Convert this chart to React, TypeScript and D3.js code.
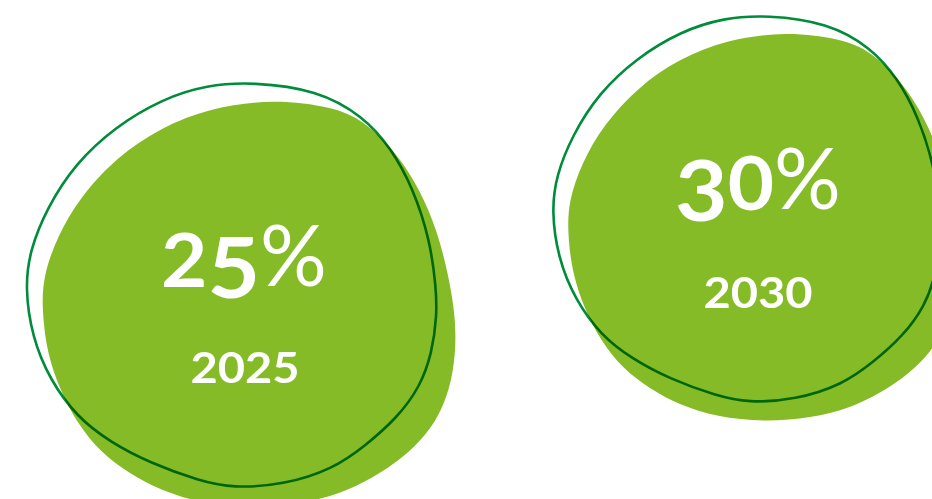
import React from "react";
import * as d3 from "d3";

// ---- data ----
const years = ["2025", "2030"];
const shares = [25, 30];

// blob silhouette (filled) and hand-drawn ring, traced in the frame of the first badge
const fillShape: [number, number][] = [
  [273, 99], [333, 107], [363, 120], [397, 153], [420, 190], [437, 230], [448, 273],
  [455, 313], [456, 347], [452, 380], [442, 410], [427, 434], [403, 458], [373, 478],
  [340, 494], [300, 504], [250, 508], [200, 503], [160, 490], [130, 474], [100, 452],
  [77, 423], [60, 390], [47, 353], [42, 310], [43, 277], [57, 237], [80, 197],
  [117, 157], [160, 128], [210, 108],
];
const ringShape: [number, number][] = [
  [253, 82], [317, 90], [363, 116], [391, 148], [413, 188], [430, 240], [436, 287],
  [437, 315], [432, 353], [420, 387], [397, 418], [365, 446], [333, 469], [283, 485],
  [233, 488], [200, 481], [150, 463], [110, 442], [77, 417], [50, 380], [32, 337],
  [25, 287], [30, 250], [47, 208], [75, 164], [115, 127], [162, 99], [207, 85],
];

// per-badge placement of the shared silhouette
const badgeScaleX = [1, 0.945];
const badgeScaleY = [1, 0.955];
const badgeShiftX = [0, 527.9];
const badgeShiftY = [0, -63.3];

// label layout
const splitX = [260, 774];
const bigBaseline = [287, 210];
const smallCx = [245, 758];
const smallBaseline = [383, 308];

const W = 932;
const H = 499;
const FILL = "#84BB27";
const RING = "#008C3A";
const FONT = "Lato, 'Open Sans', sans-serif";

function BigLabel({ value, x, base }: { value: number; x: number; base: number }) {
  const chars = String(value).split("");
  let prev = 0;
  return (
    <g>
      <g transform={`translate(${x},0) scale(1.08,1)`}>
        <text x={0} y={base} textAnchor="end" fill="#fff" fontFamily={FONT} fontWeight={700}>
          {chars.map((c, k) => {
            const desc = "34579".includes(c);
            const off = desc ? 11 : 0;
            const dy = off - prev;
            prev = off;
            return (
              <tspan key={k} dy={dy} fontSize={desc ? 84 : 74}>
                {c}
              </tspan>
            );
          })}
        </text>
      </g>
      <g transform={`translate(${x},0) scale(0.97,1)`}>
        <text x={0} y={base - 1} textAnchor="start" fill="#fff" fontFamily={FONT} fontWeight={400} fontSize={86}>
          %
        </text>
      </g>
    </g>
  );
}

export default function App() {
  const badges = years.map((year, i) => {
    const xs = d3.scaleLinear().domain([0, 1000]).range([badgeShiftX[i], badgeShiftX[i] + 1000 * badgeScaleX[i]]);
    const ys = d3.scaleLinear().domain([0, 1000]).range([badgeShiftY[i], badgeShiftY[i] + 1000 * badgeScaleY[i]]);
    const line = d3
      .line<[number, number]>()
      .x((d) => xs(d[0]))
      .y((d) => ys(d[1]))
      .curve(d3.curveBasisClosed);
    return { year, share: shares[i], fillPath: line(fillShape) || "", ringPath: line(ringShape) || "", i };
  });

  return (
    <svg
      width={W}
      height={H}
      viewBox={`0 0 ${W} ${H}`}
      style={{ position: "absolute", left: 0, top: 0, background: "#fff" }}
    >
      {badges.map((b) => (
        <g key={b.year}>
          <path d={b.fillPath} fill={FILL} />
          <path
            d={b.ringPath}
            fill="none"
            stroke={RING}
            strokeWidth={2.6}
            style={{ mixBlendMode: "multiply" }}
          />
          <BigLabel value={b.share} x={splitX[b.i]} base={bigBaseline[b.i]} />
          <g transform={`translate(${smallCx[b.i]},0) scale(1.12,1)`}>
            <text
              x={0}
              y={smallBaseline[b.i]}
              textAnchor="middle"
              fill="#fff"
              fontFamily={FONT}
              fontWeight={700}
              fontSize={42}
            >
              {b.year}
            </text>
          </g>
        </g>
      ))}
    </svg>
  );
}
